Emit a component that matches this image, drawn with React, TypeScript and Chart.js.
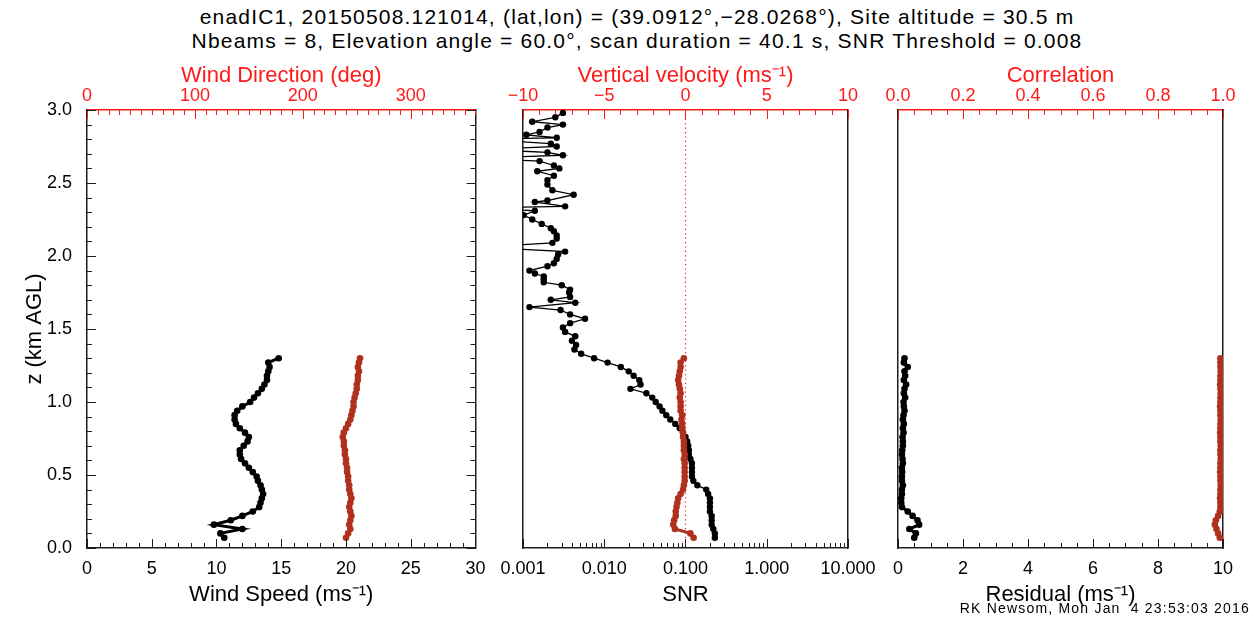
import React, { useEffect, useRef } from "react";
import { Chart, registerables } from "chart.js";

Chart.register(...registerables);

// ---------------- DATA ----------------
const heightsLow = [
  0.07, 0.10, 0.13, 0.16, 0.19, 0.22, 0.25, 0.28, 0.31, 0.34,
  0.37, 0.40, 0.43, 0.46, 0.49, 0.52, 0.55, 0.58, 0.61, 0.64,
  0.67, 0.70, 0.73, 0.76, 0.79, 0.82, 0.85, 0.88, 0.91, 0.94,
  0.97, 1.00, 1.03, 1.06, 1.09, 1.12, 1.15, 1.18, 1.21, 1.24,
  1.27, 1.30,
];

const windSpeed = [
  10.6, 10.3, 12.0, 9.8, 11.1, 12.0, 12.8, 13.3, 13.4, 13.5,
  13.6, 13.5, 13.4, 13.2, 13.1, 12.8, 12.5, 12.2, 11.9, 11.8,
  11.8, 12.1, 12.4, 12.5, 12.2, 11.8, 11.5, 11.4, 11.4, 11.6,
  12.0, 12.6, 12.9, 13.2, 13.5, 13.7, 13.9, 13.9, 14.0, 14.1,
  14.0, 14.8,
];

const windDir = [
  240, 242, 244, 243, 244, 245, 244, 243, 244, 245,
  244, 243, 243, 242, 242, 241, 241, 240, 240, 239,
  239, 238, 238, 237, 238, 240, 242, 244, 245, 246,
  247, 247, 248, 249, 250, 250, 251, 251, 252, 251,
  252, 253,
];

const vertVel = [
  0.5, 0.3, -0.65, -0.75, -0.7, -0.6, -0.6, -0.55, -0.5, -0.45,
  -0.3, -0.15, -0.1, -0.05, -0.05, -0.05, -0.05, -0.05, -0.1, -0.05,
  -0.1, -0.1, -0.1, -0.15, -0.15, -0.2, -0.2, -0.25, -0.2, -0.3,
  -0.3, -0.3, -0.35, -0.3, -0.35, -0.4, -0.45, -0.4, -0.35, -0.3,
  -0.3, -0.1,
];

const residual = [
  0.50, 0.55, 0.35, 0.65, 0.60, 0.45, 0.30, 0.12, 0.10, 0.10,
  0.12, 0.12, 0.15, 0.12, 0.12, 0.13, 0.12, 0.15, 0.14, 0.12,
  0.13, 0.15, 0.15, 0.14, 0.17, 0.15, 0.18, 0.15, 0.17, 0.20,
  0.18, 0.17, 0.22, 0.18, 0.20, 0.25, 0.18, 0.22, 0.20, 0.30,
  0.18, 0.20,
];

const correlation = [
  0.990, 0.985, 0.980, 0.975, 0.978, 0.985, 0.990, 0.992, 0.992, 0.991,
  0.992, 0.992, 0.993, 0.992, 0.992, 0.991, 0.992, 0.992, 0.993, 0.992,
  0.992, 0.993, 0.992, 0.992, 0.991, 0.992, 0.992, 0.993, 0.992, 0.992,
  0.991, 0.992, 0.992, 0.993, 0.992, 0.991, 0.992, 0.992, 0.993, 0.992,
  0.992, 0.992,
];

const snrHeights = [
  0.07, 0.10, 0.13, 0.16, 0.19, 0.22, 0.25, 0.28, 0.31, 0.34,
  0.37, 0.40, 0.43, 0.46, 0.49, 0.52, 0.55, 0.58, 0.61, 0.64,
  0.67, 0.70, 0.73, 0.76, 0.79, 0.82, 0.85, 0.88, 0.91, 0.94,
  0.97, 1.00, 1.03, 1.06, 1.09, 1.12, 1.15, 1.18, 1.21, 1.24,
  1.27, 1.30, 1.33, 1.36, 1.39, 1.42, 1.45, 1.48, 1.51, 1.54,
  1.57, 1.60, 1.63, 1.65, 1.68, 1.70, 1.72, 1.75, 1.77, 1.80,
  1.82, 1.84, 1.86, 1.88, 1.90, 1.93, 1.95, 1.98, 2.01, 2.03,
  2.06, 2.09, 2.12, 2.14, 2.17, 2.19, 2.22, 2.25, 2.28, 2.31,
  2.33, 2.34, 2.37, 2.38, 2.42, 2.45, 2.49, 2.52, 2.55, 2.58,
  2.60, 2.62, 2.65, 2.67, 2.69, 2.71, 2.73, 2.75, 2.77, 2.80,
  2.81, 2.83, 2.85, 2.88, 2.90, 2.92, 2.95, 2.98,
];

const snrValues = [
  0.23, 0.23, 0.22, 0.21, 0.21, 0.21, 0.20, 0.20, 0.20, 0.20,
  0.19, 0.18, 0.14, 0.125, 0.12, 0.12, 0.12, 0.12, 0.115, 0.11,
  0.11, 0.108, 0.105, 0.10, 0.093, 0.085, 0.075, 0.065, 0.058, 0.052,
  0.048, 0.043, 0.039, 0.033, 0.021, 0.028, 0.027, 0.023, 0.020, 0.016,
  0.011, 0.0075, 0.0052, 0.0043, 0.0045, 0.0040, 0.0044, 0.0033, 0.0031, 0.0038,
  0.0058, 0.0038, 0.0029, 0.0012, 0.0044, 0.0022, 0.0038, 0.0037, 0.0038, 0.0030,
  0.0018, 0.0018, 0.0018, 0.0014, 0.0012, 0.0020, 0.0024, 0.0026, 0.0027, 0.0033,
  0.0003, 0.0023, 0.0026, 0.0026, 0.0024, 0.0022, 0.0017, 0.0013, 0.00102, 0.0014,
  0.0003, 0.0033, 0.0014, 0.0020, 0.0042, 0.0023, 0.0020, 0.0020, 0.0024, 0.0015,
  0.0028, 0.0024, 0.0016, 0.0003, 0.0031, 0.0020, 0.0003, 0.0026, 0.0022, 0.0003,
  0.0026, 0.0011, 0.0016, 0.0020, 0.0031, 0.0013, 0.0025, 0.0031,
];

// tick labels
const heightTicks = [0, 0.5, 1.0, 1.5, 2.0, 2.5, 3.0];
const windSpeedTicks = [0, 5, 10, 15, 20, 25, 30];
const windDirTicks = [0, 100, 200, 300];
const vertVelTicks = [-10, -5, 0, 5, 10];
const snrTicks = [0.001, 0.01, 0.1, 1, 10];
const residualTicks = [0, 2, 4, 6, 8, 10];
const corrTicks = [0, 0.2, 0.4, 0.6, 0.8, 1.0];

// ---------------- STYLE / LAYOUT ----------------
const FONT = "'Liberation Sans', Arial, Helvetica, sans-serif";
const AXIS_RED = "#ff1a1a";
const DATA_RED = "#b0301e";
const AXIS_BLACK = "#1e1e1e";
const AREA_TOP = 110;
const AREA_BOTTOM = 548;
const CANVAS_TOP = 60;
const CANVAS_H = 563;
const TOP_H = AREA_TOP - CANVAS_TOP;
const BOTTOM_H = CANVAS_TOP + CANVAS_H - AREA_BOTTOM;
const TICK_SIZE = 18;
const TITLE_SIZE = 22;

function steps(min: number, max: number, step: number): number[] {
  const out: number[] = [];
  const n = Math.round((max - min) / step);
  for (let i = 0; i <= n; i++) out.push(+(min + i * step).toFixed(6));
  return out;
}
function logMinor(): number[] {
  const out: number[] = [];
  for (let d = -3; d <= 0; d++) for (let k = 2; k <= 9; k++) out.push(k * Math.pow(10, d));
  return out;
}

type TickSpec = {
  scaleId: string;
  edge: "top" | "bottom" | "left" | "right";
  major: number[];
  minor: number[];
  color: string;
};

function makeTickPlugin(specs: TickSpec[], zeroLine?: boolean) {
  return {
    id: "inwardTicks",
    beforeDatasetsDraw(chart: any) {
      if (!zeroLine) return;
      const { ctx, chartArea: a } = chart;
      const sc = chart.scales["x2"];
      const p = Math.round(sc.getPixelForValue(0)) + 0.5;
      ctx.save();
      ctx.strokeStyle = AXIS_RED;
      ctx.lineWidth = 1.2;
      ctx.setLineDash([1.2, 3.2]);
      ctx.beginPath();
      ctx.moveTo(p, a.top);
      ctx.lineTo(p, a.bottom);
      ctx.stroke();
      ctx.restore();
    },
    afterDraw(chart: any) {
      const { ctx, chartArea: a } = chart;
      for (const sp of specs) {
        const sc = chart.scales[sp.scaleId];
        ctx.save();
        ctx.strokeStyle = sp.color;
        ctx.lineWidth = 1;
        const one = (v: number, len: number) => {
          const p = Math.round(sc.getPixelForValue(v)) + 0.5;
          ctx.beginPath();
          if (sp.edge === "bottom") { ctx.moveTo(p, a.bottom); ctx.lineTo(p, a.bottom - len); }
          else if (sp.edge === "top") { ctx.moveTo(p, a.top); ctx.lineTo(p, a.top + len); }
          else if (sp.edge === "left") { ctx.moveTo(a.left, p); ctx.lineTo(a.left + len, p); }
          else { ctx.moveTo(a.right, p); ctx.lineTo(a.right - len, p); }
          ctx.stroke();
        };
        sp.minor.forEach((v) => one(v, 5));
        sp.major.forEach((v) => one(v, 9));
        ctx.restore();
      }
    },
  };
}

function bottomAxis(opts: any) {
  return {
    type: opts.type || "linear",
    position: "bottom",
    min: opts.min,
    max: opts.max,
    afterBuildTicks: (s: any) => { s.ticks = opts.ticks.map((v: number) => ({ value: v })); },
    afterFit: (s: any) => { s.height = BOTTOM_H; },
    ticks: {
      color: "#000",
      padding: 10.5,
      maxRotation: 0,
      autoSkip: false,
      font: { size: TICK_SIZE, family: FONT },
      callback: opts.format,
    },
    grid: { display: false, drawTicks: false },
    border: { display: true, color: AXIS_BLACK, width: 1.5 },
    title: {
      display: true,
      text: opts.title,
      color: "#000",
      font: { size: TITLE_SIZE, family: FONT },
      padding: { top: 0, bottom: 14.8 },
    },
  };
}

function topAxis(opts: any) {
  return {
    type: "linear",
    position: "top",
    min: opts.min,
    max: opts.max,
    afterBuildTicks: (s: any) => { s.ticks = opts.ticks.map((v: number) => ({ value: v })); },
    afterFit: (s: any) => { s.height = TOP_H; },
    ticks: {
      color: AXIS_RED,
      padding: 3,
      maxRotation: 0,
      autoSkip: false,
      font: { size: TICK_SIZE, family: FONT },
      callback: opts.format,
    },
    grid: { display: false, drawTicks: false },
    border: { display: true, color: AXIS_RED, width: 1.5 },
    title: {
      display: true,
      text: opts.title,
      color: AXIS_RED,
      font: { size: TITLE_SIZE, family: FONT },
      padding: { top: 2.8, bottom: 0 },
    },
  };
}

function leftAxis(width: number, showLabels: boolean) {
  return {
    type: "linear",
    position: "left",
    min: 0,
    max: 3,
    afterBuildTicks: (s: any) => { s.ticks = heightTicks.map((v) => ({ value: v })); },
    afterFit: (s: any) => { s.width = width; },
    ticks: {
      display: showLabels,
      color: "#000",
      padding: 15,
      font: { size: TICK_SIZE, family: FONT },
      callback: (v: number) => v.toFixed(1),
    },
    grid: { display: false, drawTicks: false },
    border: { display: true, color: AXIS_BLACK, width: 1.5 },
    title: {
      display: showLabels,
      text: "z (km AGL)",
      color: "#000",
      font: { size: TITLE_SIZE, family: FONT },
      padding: { top: 21.8, bottom: 0 },
    },
  };
}

function rightAxis(width: number) {
  return {
    type: "linear",
    position: "right",
    min: 0,
    max: 3,
    afterFit: (s: any) => { s.width = width; },
    ticks: { display: false },
    grid: { display: false, drawTicks: false },
    border: { display: true, color: AXIS_BLACK, width: 1.5 },
  };
}

function series(xs: number[], zs: number[]) {
  return zs.map((z, i) => ({ x: xs[i], y: z }));
}

function lineDs(data: any[], color: string, xAxisID: string, radius = 3.3, width = 3) {
  return {
    data,
    xAxisID,
    yAxisID: "y",
    showLine: true,
    borderColor: color,
    backgroundColor: color,
    borderWidth: width,
    pointRadius: radius,
    pointBorderWidth: 0,
    pointHoverRadius: radius,
    tension: 0,
  };
}

type PanelDef = {
  areaLeft: number;
  areaRight: number;
  leftW: number;
  rightW: number;
  build: () => any;
};

const panels: PanelDef[] = [
  {
    areaLeft: 87,
    areaRight: 475,
    leftW: 87,
    rightW: 14,
    build: () => ({
      datasets: [
        lineDs(series(windSpeed, heightsLow), "#000", "x"),
        lineDs(series(windDir, heightsLow), DATA_RED, "x2"),
      ],
      scales: {
        x: bottomAxis({ min: 0, max: 30, ticks: windSpeedTicks, title: "Wind Speed (ms\u207B\u00B9)", format: (v: number) => String(v) }),
        x2: topAxis({ min: 0, max: 360, ticks: windDirTicks, title: "Wind Direction (deg)", format: (v: number) => String(v) }),
        y: leftAxis(87, true),
        y2: rightAxis(14),
      },
      ticks: [
        { scaleId: "x", edge: "bottom", major: steps(0, 30, 5), minor: steps(0, 30, 1), color: AXIS_BLACK },
        { scaleId: "x2", edge: "top", major: steps(0, 300, 100), minor: steps(0, 360, 10), color: AXIS_RED },
        { scaleId: "y", edge: "left", major: steps(0, 3, 0.5), minor: steps(0, 3, 0.1), color: AXIS_BLACK },
        { scaleId: "y", edge: "right", major: steps(0, 3, 0.5), minor: steps(0, 3, 0.1), color: AXIS_BLACK },
      ],
      zero: false,
    }),
  },
  {
    areaLeft: 523,
    areaRight: 848,
    leftW: 40,
    rightW: 35,
    build: () => ({
      datasets: [
        lineDs(series(vertVel, heightsLow), DATA_RED, "x2"),
        lineDs(series(snrValues, snrHeights), "#000", "x", 3.2, 1.3),
      ],
      scales: {
        x: bottomAxis({
          type: "logarithmic",
          min: 0.001,
          max: 10,
          ticks: snrTicks,
          title: "SNR",
          format: (v: number) => v.toFixed(3),
        }),
        x2: topAxis({
          min: -10,
          max: 10,
          ticks: vertVelTicks,
          title: "Vertical velocity (ms\u207B\u00B9)",
          format: (v: number) => (v < 0 ? "\u2212" + Math.abs(v) : String(v)),
        }),
        y: leftAxis(40, false),
        y2: rightAxis(35),
      },
      ticks: [
        { scaleId: "x", edge: "bottom", major: snrTicks, minor: logMinor(), color: AXIS_BLACK },
        { scaleId: "x2", edge: "top", major: steps(-10, 10, 5), minor: steps(-10, 10, 1), color: AXIS_RED },
      ],
      zero: true,
    }),
  },
  {
    areaLeft: 898,
    areaRight: 1223,
    leftW: 25,
    rightW: 34,
    build: () => ({
      datasets: [
        lineDs(series(residual, heightsLow), "#000", "x"),
        lineDs(series(correlation, heightsLow), DATA_RED, "x2"),
      ],
      scales: {
        x: bottomAxis({ min: 0, max: 10, ticks: residualTicks, title: "Residual (ms\u207B\u00B9)", format: (v: number) => String(v) }),
        x2: topAxis({ min: 0, max: 1, ticks: corrTicks, title: "Correlation", format: (v: number) => v.toFixed(1) }),
        y: leftAxis(25, false),
        y2: rightAxis(34),
      },
      ticks: [
        { scaleId: "x", edge: "bottom", major: steps(0, 10, 2), minor: steps(0, 10, 0.5), color: AXIS_BLACK },
        { scaleId: "x2", edge: "top", major: steps(0, 1, 0.2), minor: steps(0, 1, 0.05), color: AXIS_RED },
      ],
      zero: false,
    }),
  },
];

function Panel({ def }: { def: PanelDef }) {
  const ref = useRef<HTMLCanvasElement | null>(null);
  const width = def.leftW + (def.areaRight - def.areaLeft) + def.rightW;
  useEffect(() => {
    const canvas = ref.current;
    if (!canvas) return;
    const b = def.build();
    const chart = new Chart(canvas, {
      type: "scatter",
      data: { datasets: b.datasets },
      options: {
        animation: false,
        responsive: false,
        maintainAspectRatio: false,
        events: [],
        layout: { padding: 0, autoPadding: false },
        plugins: { legend: { display: false }, tooltip: { enabled: false }, title: { display: false } },
        scales: b.scales,
      } as any,
      plugins: [makeTickPlugin(b.ticks, b.zero)],
    });
    // make the plotting area land exactly on the intended pixel box
    for (let i = 0; i < 4; i++) {
      const a = chart.chartArea;
      const dw = def.areaRight - def.areaLeft - (a.right - a.left);
      const dh = AREA_BOTTOM - AREA_TOP - (a.bottom - a.top);
      if (Math.abs(dw) < 0.5 && Math.abs(dh) < 0.5) break;
      chart.resize(Math.round(chart.width + dw), Math.round(chart.height + dh));
    }
    const a = chart.chartArea;
    canvas.style.left = `${def.areaLeft - a.left}px`;
    canvas.style.top = `${AREA_TOP - a.top}px`;
    return () => chart.destroy();
  }, []);
  return (
    <canvas
      ref={ref}
      width={width}
      height={CANVAS_H}
      style={{
        position: "absolute",
        left: def.areaLeft - def.leftW,
        top: CANVAS_TOP,
        width,
        height: CANVAS_H,
      }}
    />
  );
}

export default function App() {
  Chart.defaults.font.family = FONT;
  return (
    <div
      style={{
        position: "absolute",
        left: 0,
        top: 0,
        width: 1257,
        height: 623,
        background: "#fff",
        overflow: "hidden",
        fontFamily: FONT,
      }}
    >
      <div
        style={{
          position: "absolute",
          left: 0,
          top: 5,
          width: 1274,
          textAlign: "center",
          fontSize: 21,
          letterSpacing: "1.2px",
          lineHeight: "24px",
          color: "#000",
          whiteSpace: "pre",
        }}
      >
        <div>enadIC1, 20150508.121014, (lat,lon) = (39.0912°,−28.0268°), Site altitude = 30.5 m</div>
        <div>Nbeams = 8, Elevation angle = 60.0°, scan duration = 40.1 s, SNR Threshold = 0.008</div>
      </div>
      {panels.map((p, i) => (
        <Panel key={i} def={p} />
      ))}
      <div
        style={{
          position: "absolute",
          right: 7,
          top: 599,
          fontSize: 14,
          letterSpacing: "1.2px",
          lineHeight: "18px",
          color: "#000",
          whiteSpace: "pre",
          zIndex: 5,
        }}
      >
        RK Newsom, Mon Jan  4 23:53:03 2016
      </div>
    </div>
  );
}
